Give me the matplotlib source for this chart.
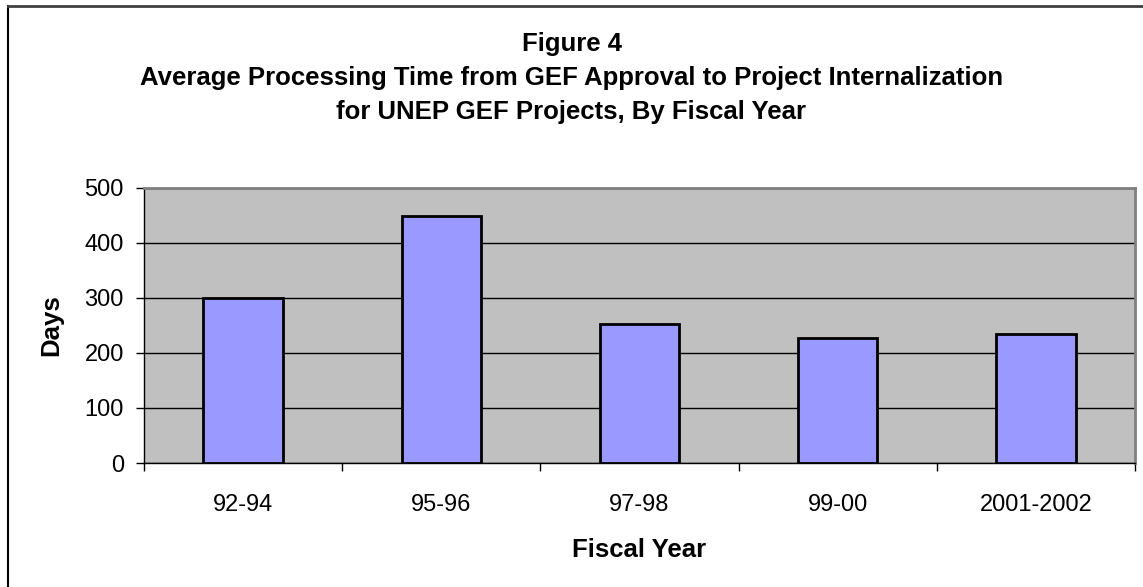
import matplotlib.pyplot as plt
from matplotlib.lines import Line2D

# dados
fiscal_years = ["92-94", "95-96", "97-98", "99-00", "2001-2002"]
avg_days = [300, 449, 253, 227, 235]

title_lines = [
    "Figure 4",
    "Average Processing Time from GEF Approval to Project Internalization",
    "for UNEP GEF Projects, By Fiscal Year",
]

plt.rcParams['font.family'] = ['Liberation Sans', 'DejaVu Sans']

W, H = 1143, 587
fig = plt.figure(figsize=(W / 100, H / 100), dpi=100)
ax = fig.add_axes([144 / W, 1 - 463 / H, 991 / W, 275 / H])

ax.set_facecolor("#C0C0C0")
x = list(range(len(fiscal_years)))
ax.bar(x, avg_days, width=0.40, color="#9999FF", edgecolor="black",
       linewidth=2, zorder=3)

ax.set_xlim(-0.5, len(fiscal_years) - 0.5)
ax.set_ylim(0, 500)
ax.set_yticks([0, 100, 200, 300, 400, 500])
ax.yaxis.grid(True, color="black", linewidth=1)
ax.set_axisbelow(True)

# ticks do eixo x nas fronteiras das categorias
ax.set_xticks([i - 0.5 for i in range(len(fiscal_years) + 1)])
ax.set_xticklabels([])
ax.set_xticks(x, minor=True)
ax.set_xticklabels(fiscal_years, minor=True)
ax.tick_params(axis="x", which="minor", length=0, pad=22, labelsize=17)
ax.tick_params(axis="x", which="major", length=6, width=1, direction="out")
ax.tick_params(axis="y", length=6, width=1, direction="out", pad=8.5, labelsize=17)

for s in ["top", "right"]:
    ax.spines[s].set_color("#808080")
    ax.spines[s].set_linewidth(2)
for s in ["left", "bottom"]:
    ax.spines[s].set_color("black")
    ax.spines[s].set_linewidth(1)

ax.set_ylabel("Days", fontsize=18.5, fontweight="bold")
ax.yaxis.set_label_coords(-0.081, 0.5)
ax.set_xlabel("Fiscal Year", fontsize=18.5, fontweight="bold")
ax.xaxis.set_label_coords(0.5, -0.273)

# titulo em tres linhas (baselines medidas)
for line, base in zip(title_lines, [51, 85, 119]):
    fig.text(0.5, 1 - base / H, line, ha="center", va="baseline",
             fontsize=18.5, fontweight="bold")

# borda da area do grafico (so esquerda e topo aparecem)
fig.add_artist(Line2D([8 / W, 8 / W], [0, 1 - 6 / H],
                      transform=fig.transFigure, color="black", linewidth=1.5))
fig.add_artist(Line2D([8 / W, 1], [1 - 6 / H, 1 - 6 / H],
                      transform=fig.transFigure, color="#404040", linewidth=2))

plt.savefig("out.png", dpi=100)
